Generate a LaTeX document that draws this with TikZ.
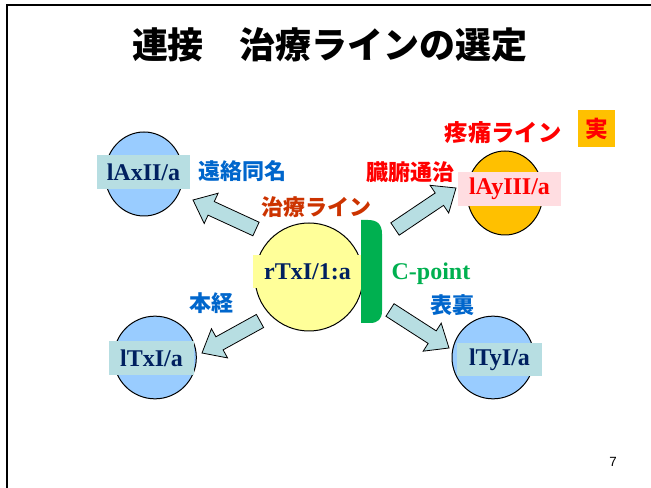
\documentclass[tikz,border=0pt]{standalone}
\usepackage{fontspec}
\usepackage{tikz}
\usetikzlibrary{calc,shapes.geometric}
\setmainfont{Liberation Serif}
\newfontfamily\jpfont{Noto Sans CJK JP}
\newfontfamily\pagefont{Liberation Sans}

\definecolor{skyfill}{RGB}{153,204,255}
\definecolor{boxteal}{RGB}{183,222,226}
\definecolor{pinkbox}{RGB}{255,221,225}
\definecolor{sunfill}{RGB}{255,255,153}
\definecolor{goldfill}{RGB}{255,192,0}
\definecolor{navytxt}{RGB}{0,32,96}
\definecolor{linkblue}{RGB}{0,102,204}
\definecolor{rustred}{RGB}{204,51,0}
\definecolor{cgreen}{RGB}{0,176,80}

\tikzset{
  meridian/.style={ellipse,draw=black,line width=0.75,inner sep=0pt},
  tagbox/.style={inner sep=0pt,font=\bfseries\fontsize{18}{18}\selectfont,text=navytxt},
  jplabel/.style={inner sep=0.75pt,font=\jpfont\bfseries\fontsize{16.5}{16.5}\selectfont},
  fatbody/.style={fill=boxteal,draw=black,line width=0.6,line join=miter}
}

% block arrow from tail #1 to tip #2
\newcommand{\fatarrow}[2]{%
  \coordinate (fa-neck) at ($(#2)!15pt!(#1)$);
  \draw[fatbody] ($(#1)!5.6pt!90:(#2)$) -- ($(fa-neck)!5.6pt!90:(#2)$) -- ($(fa-neck)!12.5pt!90:(#2)$) -- (#2)
     -- ($(fa-neck)!12.5pt!-90:(#2)$) -- ($(fa-neck)!5.6pt!-90:(#2)$) -- ($(#1)!5.6pt!-90:(#2)$) -- cycle;
}

\begin{document}
\begin{tikzpicture}[x=0.75pt,y=0.75pt,yscale=-1,xscale=1]
\useasboundingbox (0,0) rectangle (651,488);

%Frame
\draw [line width=1.9] (7,488) -- (7,5) -- (651,5) ;

% Title
\node (title) at (330,45) [inner sep=0pt] {\jpfont\bfseries\fontsize{27}{27}\selectfont 連接　治療ラインの選定};

%Shape: Circles
\node (cAxII) at (144,174) [meridian,fill=skyfill,minimum width=58.5,minimum height=63] {};
\node (cAyIII) at (505,193) [meridian,fill=goldfill,minimum width=57,minimum height=63] {};
\node (cTxI) at (155,357.5) [meridian,fill=skyfill,minimum width=62,minimum height=62] {};
\node (cTyI) at (493,357.5) [meridian,fill=skyfill,minimum width=61.5,minimum height=62] {};
\node (crTxI) at (309,277) [meridian,fill=sunfill,minimum width=81,minimum height=81] {};

% Label boxes
\node (lAxII) at (143.5,172) [tagbox,fill=boxteal,minimum width=70,minimum height=25.5] {lAxII/a};
\node (lAyIII) at (509.5,189) [tagbox,fill=pinkbox,text=red,minimum width=77,minimum height=25.5] {lAyIII/a};
\node (lTxI) at (151.5,358) [tagbox,fill=boxteal,minimum width=64,minimum height=25.5] {lTxI/a};
\node (lTyI) at (499.5,359.5) [tagbox,fill=boxteal,minimum width=64,minimum height=25] {lTyI/a};
\node (rTxI) at (307.5,271.5) [tagbox,fill=sunfill,minimum width=82,minimum height=25] {rTxI/1:a};

%Shape: C-point bar
\fill [cgreen] (361,220) -- (368,220) .. controls (377,220) and (382,224) .. (382,234) -- (382,311) .. controls (382,319) and (378,323) .. (370,323) -- (361,323) -- cycle ;

% Block arrows
\coordinate (ulTail) at (256,229);  \coordinate (ulTip) at (193,200);
\coordinate (urTail) at (395,229);  \coordinate (urTip) at (456,188);
\coordinate (llTail) at (260,321);  \coordinate (llTip) at (202,353);
\coordinate (lrTail) at (390,310);  \coordinate (lrTip) at (449,348);
\fatarrow{ulTail}{ulTip}
\fatarrow{urTail}{urTip}
\fatarrow{llTail}{llTip}
\fatarrow{lrTail}{lrTip}

% Text Node
\node (enraku) at (242,171) [jplabel,text=linkblue] {遠絡同名};
\node (chiryo) at (316,207) [jplabel,text=rustred] {治療ライン};
\node (zofu) at (410,172) [jplabel,text=red] {臓腑通治};
\node (totsu) at (503,133) [jplabel,text=red,font=\jpfont\bfseries\fontsize{17.5}{17.5}\selectfont] {疼痛ライン};
\node (honkei) at (211,303) [jplabel,text=linkblue] {本経};
\node (hyori) at (452,305) [jplabel,text=linkblue] {表裏};
\node (cpoint) at (431,274) [inner sep=0pt,text=cgreen,font=\bfseries\fontsize{18}{18}\selectfont] {C-point};
\node (jitsu) at (596.5,128.5) [fill=goldfill,text=red,minimum width=27.75,minimum height=27.75,inner sep=0pt,font=\jpfont\bfseries\fontsize{17}{17}\selectfont] {実};
\node (pageno) at (613,462) [inner sep=0pt,font=\pagefont\fontsize{10}{10}\selectfont] {7};

\end{tikzpicture}
\end{document}
